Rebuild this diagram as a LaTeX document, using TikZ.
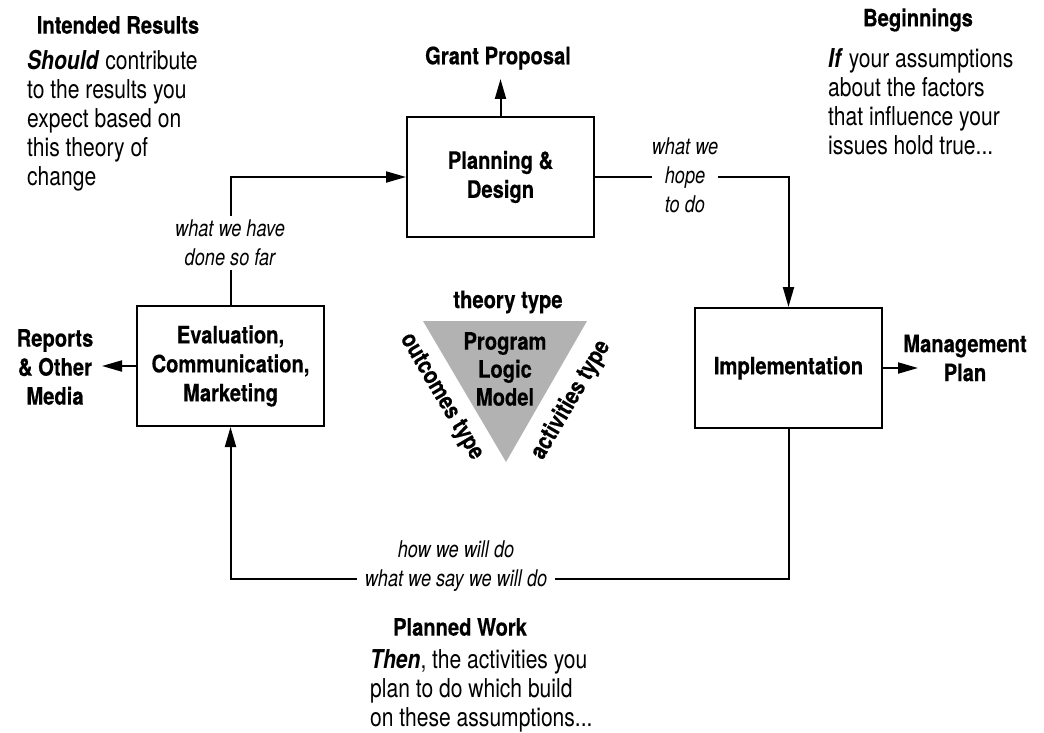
\documentclass[tikz,border=0pt]{standalone}
\usepackage{fontspec}
\setmainfont{TeX Gyre Heros}[FakeStretch=0.81]
\newfontfamily\dgBoldFam{TeX Gyre Heros}[FakeStretch=0.84,BoldFeatures={FakeBold=0.4}]
\newfontfamily\dgItFam{TeX Gyre Heros}[FakeStretch=0.79]
\usetikzlibrary{arrows.meta}
\newcommand\dgBold{\dgBoldFam\fontsize{24}{29}\selectfont\bfseries}
\newcommand\dgBody{\fontsize{26}{29}\selectfont}
\newcommand\dgIt{\dgItFam\fontsize{23}{29}\selectfont\itshape}
\begin{document}
\begin{tikzpicture}[x=1pt,y=1pt,
  arr/.style={line width=2pt,-{Triangle[length=20pt,width=11pt]}},
  box/.style={draw,line width=2pt,minimum width=187pt,minimum height=120pt,align=center,inner sep=0pt,font=\dgBold},
  head/.style={align=center,inner sep=0pt,font=\dgBold},
  body/.style={align=left,inner sep=0pt,font=\dgBody},
  conn/.style={align=center,font=\dgIt,fill=white}]
\useasboundingbox (0,0) rectangle (1044,-733);

% boxes
\node[box] (pd) at (500.5,-177) {Planning \&\\Design};
\node[box] (impl) at (788.5,-368) {Implementation};
\node[box] (eval) at (230.5,-366) {Evaluation,\\Communication,\\Marketing};

% outputs
\node[head] (gp) at (498,-58) {Grant Proposal};
\node[head] (mp) at (965,-358) {Management\\Plan};
\node[head] (rep) at (55,-367) {Reports\\\& Other\\Media};
\coordinate (gptip) at (500.5,-79);
\coordinate (mptip) at (918,-368);
\coordinate (reptip) at (102,-366);
\draw[arr] (pd.north) -- (gptip);
\draw[arr] (impl.east) -- (mptip);
\draw[arr] (eval.west) -- (reptip);

% cycle connectors
\coordinate (bot) at (0,-579);
\draw[arr] (pd.east) -- (impl.north |- pd.east) -- (impl.north);
\draw[arr] (impl.south) -- (impl.south |- bot) -- (eval.south |- bot) -- (eval.south);
\draw[arr] (eval.north) -- (eval.north |- pd.west) -- (pd.west);

% connector labels
\node[conn,inner xsep=0pt,inner ysep=1pt] (hope) at (685,-175) {what we\\hope\\to do};
\node[conn,inner xsep=8pt,inner ysep=2pt] (how) at (456,-566) {how we will do\\what we say we will do};
\node[conn,inner sep=4pt] (done) at (230,-243) {what we have\\done so far};

% triangle
\coordinate (tA) at (423,-321);
\coordinate (tB) at (587,-321);
\coordinate (tC) at (506,-462);
\fill[black!30] (tA) -- (tB) -- (tC) -- cycle;
\node[head,font=\dgBoldFam\fontsize{24}{28}\selectfont\bfseries] (plm) at (505,-369) {Program\\Logic\\Model};
\node[head] (theory) at (508,-302) {theory type};
\node[head,rotate=-59.5] (outc) at (441,-397) {outcomes type};
\node[head,rotate=59.5] (actv) at (571,-400) {activities type};

% text blocks
\node[head] (ir) at (118,-25) {Intended Results};
\node[body,anchor=west] (irb) at (27,-121) {\textbf{\textit{Should}} contribute\\to the results you\\expect based on\\this theory of\\change};
\node[head] (beg) at (918,-20) {Beginnings};
\node[body,anchor=west] (begb) at (828,-102) {\textbf{\textit{If}} your assumptions\\about the factors\\that influence your\\issues hold true...};
\node[head] (pw) at (460,-627) {Planned Work};
\node[body,anchor=west] (pwb) at (370,-691) {\textbf{\textit{Then}}, the activities you\\plan to do which build\\on these assumptions...};
\end{tikzpicture}
\end{document}
